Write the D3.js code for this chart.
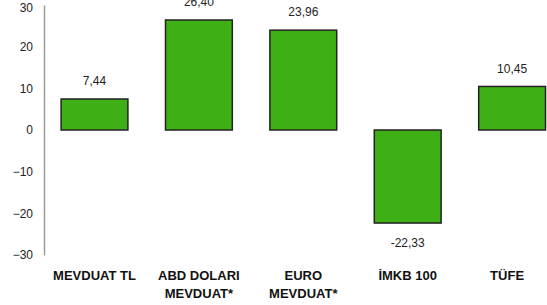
<!DOCTYPE html>
<html>
<head>
<meta charset="utf-8">
<script src="https://cdn.jsdelivr.net/npm/d3@7"></script>
<style>
  body { margin: 0; background: #fff; }
  svg text { font-family: "Liberation Sans", Arial, sans-serif; }
</style>
</head>
<body>
<div id="chart"></div>
<script>
var categories = [["MEVDUAT TL"], ["ABD DOLARI", "MEVDUAT*"], ["EURO", "MEVDUAT*"], ["\u0130MKB 100"], ["T\u00dcFE"]];
var values = [7.44, 26.40, 23.96, -22.33, 10.45];
var valueLabels = ["7,44", "26,40", "23,96", "-22,33", "10,45"];
var yTicks = [30, 20, 10, 0, -10, -20, -30];

var width = 547, height = 305;

var svg = d3.select("#chart")
    .append("svg")
    .attr("width", width)
    .attr("height", height);

// y scale
var y = d3.scaleLinear()
    .domain([-30, 30])
    .range([255, 5]);

// x scale
var x = d3.scaleBand()
    .domain(d3.range(values.length))
    .range([42.3, 564.3])
    .paddingInner(0.36)
    .paddingOuter(0.18);

// y axis
var yaxis = svg.append("g")
    .attr("transform", "translate(44,0)")
    .call(d3.axisLeft(y).tickValues(yTicks).tickSize(0).tickPadding(11).tickFormat(d3.format("d")));
yaxis.select(".domain")
    .attr("stroke", "#9a9a9a")
    .attr("stroke-width", 1.5);
yaxis.selectAll("text")
    .style("font-size", "12px")
    .style("fill", "#222");
// top label sits a little lower in the original
yaxis.selectAll(".tick text")
    .filter(function (d) { return d == 30; })
    .attr("dy", "0.5em");

// bars
svg.append("g")
    .selectAll("rect")
    .data(values)
    .enter()
    .append("rect")
    .attr("x", function (d, i) { return x(i); })
    .attr("y", function (d) { return y(Math.max(0, d)); })
    .attr("width", x.bandwidth())
    .attr("height", function (d) { return Math.abs(y(d) - y(0)); })
    .style("fill", "#3eaf14")
    .style("stroke", "#222")
    .style("stroke-width", 1.5);

// value labels
svg.append("g")
    .selectAll("text")
    .data(values)
    .enter()
    .append("text")
    .attr("x", function (d, i) { return x(i) + x.bandwidth() / 2; })
    .attr("y", function (d) { return d >= 0 ? y(d) - 18 : y(d) + 20; })
    .attr("dy", "0.35em")
    .style("text-anchor", "middle")
    .style("font-size", "12px")
    .style("fill", "#222")
    .text(function (d, i) { return valueLabels[i]; });

// category labels
var cats = svg.append("g")
    .selectAll("text")
    .data(categories)
    .enter()
    .append("text")
    .attr("x", function (d, i) { return x(i) + x.bandwidth() / 2 - (i == 4 ? 5 : 0); })
    .attr("y", 275)
    .style("text-anchor", "middle")
    .style("font-size", "13px")
    .style("font-weight", "bold")
    .style("fill", "#111");
cats.selectAll("tspan")
    .data(function (d) { return d; })
    .enter()
    .append("tspan")
    .attr("x", function () { return d3.select(this.parentNode).attr("x"); })
    .attr("dy", function (d, i) { return i == 0 ? "0.35em" : "18px"; })
    .text(function (d) { return d; });
</script>
</body>
</html>
